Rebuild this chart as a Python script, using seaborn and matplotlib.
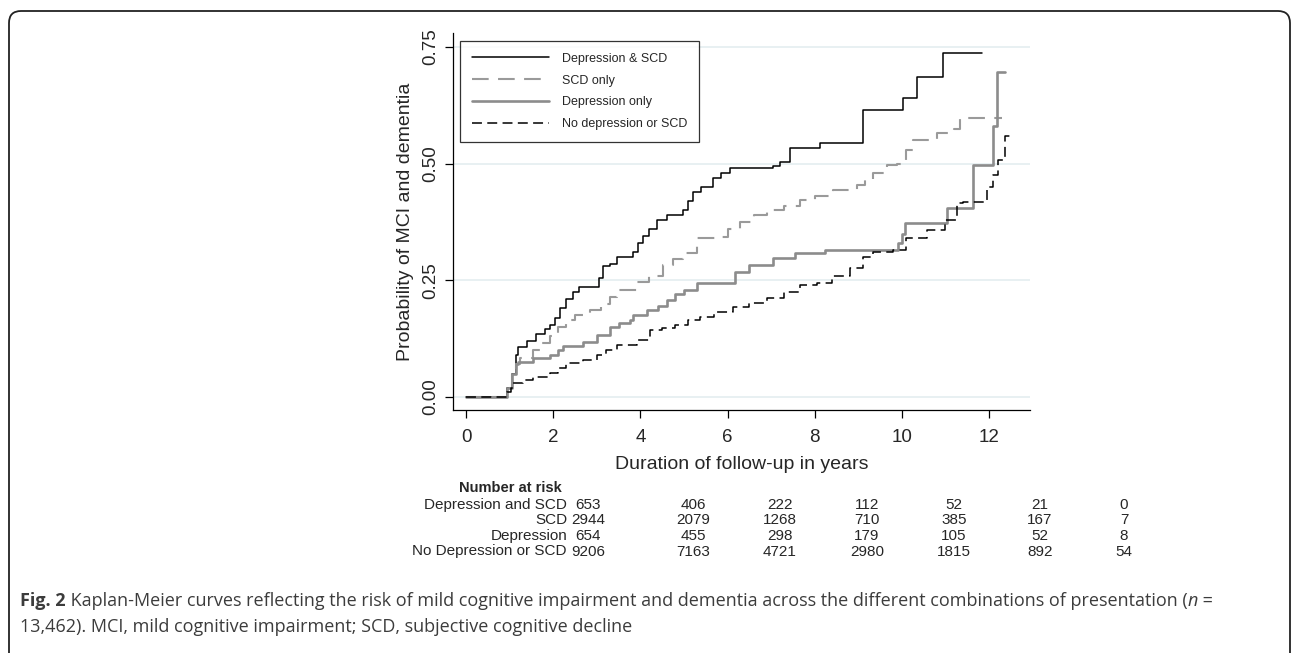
import numpy as np
import pandas as pd
import matplotlib
matplotlib.use('Agg')
import matplotlib.pyplot as plt
import seaborn as sns
from matplotlib.patches import FancyBboxPatch

# Kaplan-Meier step curves (years, cumulative probability)
t_dep_scd = [0, 0.95, 1.05, 1.15, 1.2, 1.4, 1.6, 1.8, 1.93, 2.05, 2.16, 2.3, 2.45, 2.6, 3.05, 3.15,
             3.3, 3.46, 3.83, 3.95, 4.05, 4.2, 4.38, 4.6, 4.98, 5.1, 5.2, 5.4, 5.67, 5.85, 6.05, 7.05,
             7.2, 7.43, 8.12, 9.1, 10.02, 10.34, 10.94, 11.83]
p_dep_scd = [0, 0.02, 0.05, 0.09, 0.107, 0.12, 0.135, 0.145, 0.155, 0.17, 0.19, 0.21, 0.225, 0.235,
             0.255, 0.28, 0.285, 0.30, 0.31, 0.33, 0.345, 0.36, 0.38, 0.39, 0.40, 0.42, 0.44, 0.45,
             0.47, 0.48, 0.49, 0.495, 0.503, 0.534, 0.544, 0.615, 0.64, 0.686, 0.737, 0.737]

t_scd = [0, 0.95, 1.05, 1.15, 1.24, 1.54, 1.75, 1.93, 2.1, 2.3, 2.5, 2.84, 3.1, 3.3, 3.46, 3.92,
         4.2, 4.52, 4.75, 4.98, 5.3, 5.75, 6.0, 6.28, 6.6, 6.9, 7.3, 7.66, 8.0, 8.42, 8.97, 9.15,
         9.33, 9.65, 9.88, 10.1, 10.25, 10.8, 11.2, 11.33, 12.3]
p_scd = [0, 0.02, 0.05, 0.07, 0.083, 0.10, 0.115, 0.13, 0.15, 0.165, 0.175, 0.186, 0.20, 0.215,
         0.23, 0.246, 0.26, 0.283, 0.295, 0.308, 0.34, 0.343, 0.36, 0.375, 0.39, 0.40, 0.41, 0.422,
         0.43, 0.443, 0.454, 0.465, 0.48, 0.497, 0.50, 0.53, 0.55, 0.565, 0.574, 0.598, 0.598]

t_dep = [0, 0.95, 1.05, 1.15, 1.2, 1.54, 1.93, 2.1, 2.23, 2.68, 3.0, 3.3, 3.5, 3.76, 3.83, 4.15,
         4.4, 4.6, 4.8, 5.0, 5.3, 6.17, 6.5, 7.04, 7.55, 8.23, 9.9, 10.0, 10.07, 11.03, 11.63,
         12.08, 12.18, 12.36]
p_dep = [0, 0.02, 0.05, 0.07, 0.075, 0.083, 0.09, 0.10, 0.11, 0.118, 0.133, 0.15, 0.158, 0.165,
         0.175, 0.186, 0.195, 0.208, 0.22, 0.23, 0.244, 0.268, 0.283, 0.298, 0.308, 0.315, 0.33,
         0.35, 0.373, 0.405, 0.497, 0.58, 0.697, 0.697]

t_none = [0, 0.95, 1.02, 1.08, 1.3, 1.54, 1.93, 2.1, 2.3, 2.68, 3.0, 3.2, 3.46, 3.92, 4.22, 4.5,
          4.8, 5.1, 5.37, 5.7, 6.12, 6.5, 6.9, 7.3, 7.66, 8.05, 8.4, 8.8, 9.1, 9.33, 9.8, 10.1,
          10.57, 11.0, 11.26, 11.4, 11.95, 12.08, 12.2, 12.36, 12.48]
p_none = [0, 0.01, 0.02, 0.03, 0.037, 0.043, 0.051, 0.062, 0.073, 0.079, 0.09, 0.10, 0.111, 0.122,
          0.143, 0.148, 0.155, 0.165, 0.171, 0.182, 0.193, 0.202, 0.212, 0.225, 0.24, 0.244, 0.26,
          0.276, 0.30, 0.31, 0.315, 0.34, 0.358, 0.38, 0.415, 0.418, 0.45, 0.476, 0.508, 0.56, 0.56]

legend_labels = ["Depression & SCD", "SCD only", "Depression only", "No depression or SCD"]

# number at risk table
risk_rows = ["Depression and SCD", "SCD", "Depression", "No Depression or SCD"]
risk_dep_scd = [653, 406, 222, 112, 52, 21, 0]
risk_scd = [2944, 2079, 1268, 710, 385, 167, 7]
risk_dep = [654, 455, 298, 179, 105, 52, 8]
risk_none = [9206, 7163, 4721, 2980, 1815, 892, 54]

x_ticks = [0, 2, 4, 6, 8, 10, 12]
y_ticks = [0, 0.25, 0.5, 0.75]
y_ticklabels = ["0.00", "0.25", "0.50", "0.75"]

sns.set_style("white")
plt.rcParams['font.family'] = ['Liberation Sans', 'DejaVu Sans']

W, H = 1292, 653
fig = plt.figure(figsize=(W / 100, H / 100), dpi=100)
ax = fig.add_axes([453 / W, 1 - 410 / H, (1030 - 453) / W, (410 - 33) / H])

styles = [
    (t_dep_scd, p_dep_scd, "black", 1.1, "-"),
    (t_scd, p_scd, "#9a9a9a", 1.5, (0, (8, 4.5))),
    (t_dep, p_dep, "#8c8c8c", 1.9, "-"),
    (t_none, p_none, "black", 1.1, (0, (6.5, 3.5))),
]
for (t, p, c, lw, ls), lab in zip(styles, legend_labels):
    df = pd.DataFrame({"t": t, "p": p})
    sns.lineplot(data=df, x="t", y="p", ax=ax, color=c, linewidth=lw, linestyle=ls,
                 drawstyle="steps-post", estimator=None, label=lab)

ax.set_xlim(-0.3, 12.94)
ax.set_ylim(-0.028, 0.78)
ax.set_xticks(x_ticks)
ax.set_yticks(y_ticks)
ax.set_yticklabels(y_ticklabels, rotation=90, va="center")
ax.yaxis.grid(True, color="#e6eff1", linewidth=1.3)
ax.xaxis.grid(False)
ax.set_axisbelow(True)
for s in ["top", "right"]:
    ax.spines[s].set_visible(False)
for s in ["left", "bottom"]:
    ax.spines[s].set_color("black")
    ax.spines[s].set_linewidth(0.9)
ax.tick_params(direction="out", length=6, width=0.9, color="black", labelsize=13.5,
               left=True, bottom=True, pad=4)
ax.tick_params(axis="x", pad=8)
ax.set_xlabel("Duration of follow-up in years", fontsize=14, labelpad=7)
ax.set_ylabel("Probability of MCI and dementia", fontsize=14, labelpad=6)

leg = ax.legend(loc="upper left", bbox_to_anchor=(0.012, 0.979), fontsize=9, frameon=True,
                fancybox=False, edgecolor="black", handlelength=6.2, handletextpad=1.0,
                labelspacing=0.78, borderpad=0.95, borderaxespad=0)
leg.get_frame().set_linewidth(0.9)

# number at risk table (figure pixel layout)
def fy(y):
    return 1 - y / H

tab_font = ['Liberation Sans Narrow', 'Liberation Sans', 'DejaVu Sans']
fig.text(562 / W, fy(488), "Number at risk", ha="right", va="center", fontsize=10.5,
         fontweight="bold", family=tab_font)
col_x = [588, 693, 780, 867, 954, 1040, 1124]
row_y = [505, 520.5, 536, 551.5]
for lab, vals, y in zip(risk_rows, [risk_dep_scd, risk_scd, risk_dep, risk_none], row_y):
    fig.text(567 / W, fy(y), lab, ha="right", va="center", fontsize=11, family=tab_font)
    for x, v in zip(col_x, vals):
        fig.text(x / W, fy(y), str(v), ha="center", va="center", fontsize=11, family=tab_font)

# caption
cap_font = ['Open Sans', 'DejaVu Sans']
cap_col = "#3c3c3c"
renderer = fig.canvas.get_renderer()

def chain(pieces, x0, y):
    x = x0
    for txt, kw in pieces:
        t = fig.text(x / W, fy(y), txt, ha="left", va="center", fontsize=13, color=cap_col,
                     family=cap_font, **kw)
        bb = t.get_window_extent(renderer=renderer)
        x += bb.width

chain([("Fig. 2", {"fontweight": "bold"}),
       (" Kaplan-Meier curves reflecting the risk of mild cognitive impairment and dementia "
        "across the different combinations of presentation (", {}),
       ("n", {"style": "italic"}),
       (" =", {})], 20, 601)
chain([("13,462). MCI, mild cognitive impairment; SCD, subjective cognitive decline", {})], 20, 627)

frame = FancyBboxPatch((0.09, -0.5), 12.81, (H - 11) / 100 + 0.5,
                       boxstyle="round,pad=0,rounding_size=0.12",
                       transform=fig.dpi_scale_trans, fill=False, ec="#222222", lw=1.3,
                       clip_on=False)
fig.patches.append(frame)

fig.savefig("out.png", dpi=100)
